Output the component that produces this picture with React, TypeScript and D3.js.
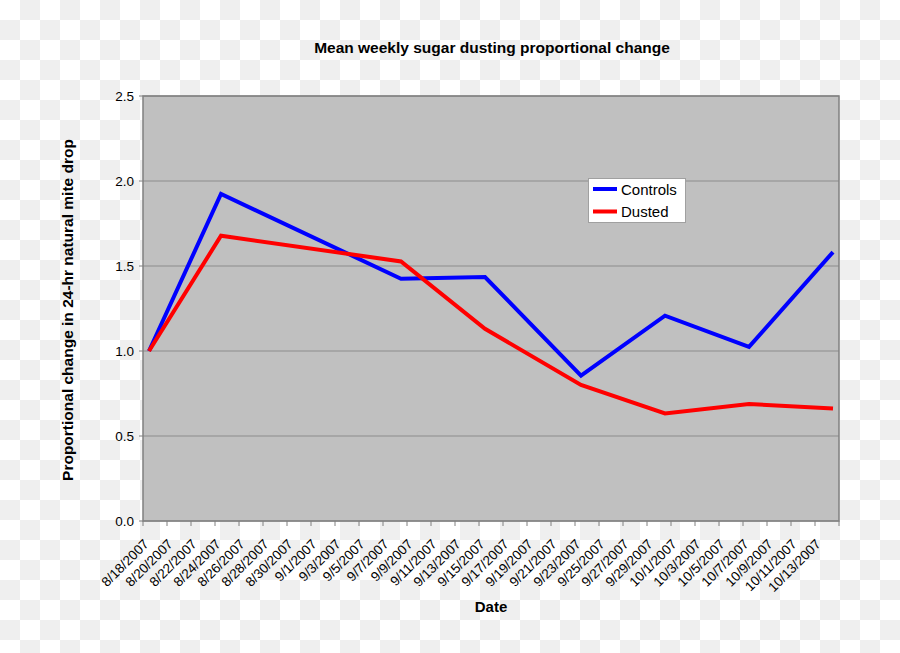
import React from "react";
import * as d3 from "d3";

const dates = ["2007-08-18", "2007-08-24", "2007-09-08", "2007-09-15", "2007-09-23", "2007-09-30", "2007-10-07", "2007-10-14"];
const controls = [1.0, 1.924, 1.425, 1.435, 0.855, 1.208, 1.024, 1.582];
const dusted = [1.0, 1.678, 1.527, 1.131, 0.8, 0.633, 0.688, 0.662];
const yTicks = [0, 0.5, 1.0, 1.5, 2.0, 2.5];
const seriesNames = ["Controls", "Dusted"];
const seriesColors = ["#0000ff", "#ff0000"];
const title = "Mean weekly sugar dusting proportional change";
const xTitle = "Date";
const yTitle = "Proportional change in 24-hr natural mite drop";

const W = 900;
const H = 653;
const L = 143, R = 839, T = 96, B = 521;

export default function App() {
  const parse = d3.utcParse("%Y-%m-%d");
  const start = parse("2007-08-18")!;
  const end = parse("2007-10-15")!;
  const x = d3.scaleUtc().domain([start, end]).range([L, R]);
  const y = d3.scaleLinear().domain([0, 2.5]).range([B, T]);
  const half = 12 * 3600 * 1000;
  const pts = dates.map((s) => new Date(parse(s)!.getTime() + half));
  const tickDates = d3.range(0, 57, 2).map((k) => d3.utcDay.offset(start, k));
  const fmt = d3.utcFormat("%-m/%-d/%Y");
  const line = d3
    .line<number>()
    .x((_, i) => x(pts[i]))
    .y((v) => y(v));
  const series = [controls, dusted];
  const font = "'Liberation Sans', Arial, sans-serif";

  return (
    <svg width={W} height={H} style={{ position: "absolute", left: 0, top: 0 }} fontFamily={font}>
      <defs>
        <pattern id="chk" width={40} height={40} patternUnits="userSpaceOnUse">
          <rect width={40} height={40} fill="#ffffff" />
          <rect x={20} y={0} width={20} height={20} fill="#efefef" />
          <rect x={0} y={20} width={20} height={20} fill="#efefef" />
        </pattern>
        <clipPath id="plot">
          <rect x={L} y={T} width={R - L} height={B - T} />
        </clipPath>
      </defs>
      <rect width={W} height={H} fill="url(#chk)" />
      <rect x={L} y={T} width={R - L} height={B - T} fill="#c0c0c0" />
      {yTicks.map((t) => (
        <g key={t}>
          <line x1={L} x2={R} y1={y(t)} y2={y(t)} stroke="#8c8c8c" strokeWidth={1} />
          <line x1={L - 4} x2={L} y1={y(t)} y2={y(t)} stroke="#808080" strokeWidth={1} />
          <text x={L - 9} y={y(t) + 5} textAnchor="end" fontSize={13.5} fill="#000">
            {d3.format(".1f")(t)}
          </text>
        </g>
      ))}
      <rect x={L} y={T} width={R - L} height={B - T} fill="none" stroke="#808080" strokeWidth={1.5} />
      {tickDates.map((d) => (
        <line key={"t" + d.getTime()} x1={x(d)} x2={x(d)} y1={B} y2={B + 5} stroke="#808080" strokeWidth={1} />
      ))}
      <line x1={R} x2={R} y1={B} y2={B + 5} stroke="#808080" strokeWidth={1} />
      {tickDates.map((d) => {
        const cx = x(new Date(d.getTime() + half));
        return (
          <text
            key={"l" + d.getTime()}
            transform={`translate(${cx + 0.5},${B + 24}) rotate(-45)`}
            textAnchor="end"
            fontSize={13.5}
            fill="#000"
          >
            {fmt(d)}
          </text>
        );
      })}
      <g clipPath="url(#plot)">
        {series.map((s, i) => (
          <path key={i} d={line(s)!} fill="none" stroke={seriesColors[i]} strokeWidth={4} strokeLinejoin="miter" />
        ))}
      </g>
      <rect x={588.5} y={178.5} width={97} height={44} fill="#ffffff" stroke="#a0a0a0" strokeWidth={1} />
      {seriesNames.map((n, i) => (
        <g key={n}>
          <line x1={593} x2={617} y1={189 + i * 22.5} y2={189 + i * 22.5} stroke={seriesColors[i]} strokeWidth={4} />
          <text x={621} y={194.5 + i * 22.5} fontSize={15} fill="#000">
            {n}
          </text>
        </g>
      ))}
      <text x={492} y={53} textAnchor="middle" fontSize={15.5} fontWeight="bold" fill="#000">
        {title}
      </text>
      <text x={491} y={612} textAnchor="middle" fontSize={15} fontWeight="bold" fill="#000">
        {xTitle}
      </text>
      <text
        transform={`translate(73,310) rotate(-90)`}
        textAnchor="middle"
        fontSize={15.5}
        fontWeight="bold"
        fill="#000"
      >
        {yTitle}
      </text>
    </svg>
  );
}
